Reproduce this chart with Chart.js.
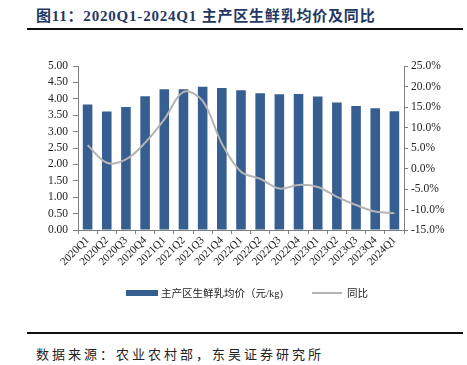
<!DOCTYPE html>
<html><head><meta charset="utf-8">
<script src="https://cdn.jsdelivr.net/npm/chart.js@4.4.0/dist/chart.umd.min.js"></script>
<style>
html,body{margin:0;padding:0;background:#fff;width:467px;height:365px;overflow:hidden;}
#title{position:absolute;left:36px;top:4px;font-family:"Liberation Serif","Noto Sans CJK SC",serif;font-weight:bold;font-size:15px;color:#1f3864;letter-spacing:0.8px;white-space:nowrap;}
.hr{position:absolute;left:27px;width:436px;height:2px;background:#111;}
#src{position:absolute;left:36px;top:344px;font-family:"Noto Sans CJK SC",sans-serif;font-size:13px;color:#222;letter-spacing:3px;white-space:nowrap;}
#legend{position:absolute;top:285px;left:0;font-family:"Liberation Serif","Noto Sans CJK SC",serif;font-size:10.5px;color:#222;}
.box{position:absolute;left:126px;top:5px;width:32px;height:6px;background:#375e91;}
.t1{position:absolute;left:161px;top:0px;white-space:nowrap;}
.ln{position:absolute;left:312px;top:7px;width:30px;height:2px;background:#b4b4b4;}
.t2{position:absolute;left:347px;top:0px;white-space:nowrap;}
#wrap{position:absolute;left:0;top:50px;width:467px;height:240px;}
</style></head>
<body>
<div id="title">图11：2020Q1-2024Q1 主产区生鲜乳均价及同比</div>
<div class="hr" style="top:28px"></div>
<div id="wrap"><canvas id="c" width="467" height="240"></canvas></div>
<div id="legend"><div class="box"></div><div class="t1">主产区生鲜乳均价（元/kg)</div><div class="ln"></div><div class="t2">同比</div></div>
<div class="hr" style="top:332px"></div>
<div id="src">数据来源：农业农村部，东吴证券研究所</div>
<script>
const categories = ["2020Q1","2020Q2","2020Q3","2020Q4","2021Q1","2021Q2","2021Q3","2021Q4","2022Q1","2022Q2","2022Q3","2022Q4","2023Q1","2023Q2","2023Q3","2023Q4","2024Q1"];
const priceValues = [3.83,3.61,3.75,4.08,4.29,4.29,4.37,4.33,4.26,4.17,4.14,4.15,4.07,3.89,3.78,3.71,3.62];
const yoyValues = [5.7,1.4,2.2,6.3,12.0,18.7,16.5,6.1,-0.8,-2.5,-4.9,-4.0,-4.5,-6.9,-8.9,-10.5,-10.9];
const leftTicks = {min:0,max:5,step:0.5};
const rightTicks = {min:-15,max:25,step:5};

const axisColor = '#7f7f7f';
const tickFont = {family:"'Liberation Serif', serif", size:11.5};
new Chart(document.getElementById('c'), {
  data: {
    labels: categories,
    datasets: [
      {type:'line', label:'同比', data: yoyValues, yAxisID:'y1', borderColor:'#b4b4b4', borderWidth:2, pointRadius:0, tension:0.35, order:0},
      {type:'bar', label:'主产区生鲜乳均价（元/kg)', data: priceValues, yAxisID:'y', backgroundColor:'#375e91', barPercentage:0.5, categoryPercentage:1.0, order:1}
    ]
  },
  options: {
    responsive:false, animation:false,
    layout:{padding:{top:16,left:0,right:0,bottom:0}},
    plugins:{legend:{display:false}, tooltip:{enabled:false}},
    scales:{
      x:{
        grid:{display:true, drawOnChartArea:false, drawTicks:true, tickLength:4, color:axisColor, offset:true},
        border:{display:true,color:axisColor},
        ticks:{minRotation:45,maxRotation:45,autoSkip:false,color:'#222',font:{family:"'Liberation Serif', serif",size:11},padding:0},
        afterFit:(s)=>{s.height=60;}
      },
      y:{
        position:'left', min:leftTicks.min, max:leftTicks.max,
        ticks:{stepSize:leftTicks.step,autoSkip:false,color:'#222',font:tickFont,padding:5,callback:v=>v.toFixed(2)},
        grid:{display:true, drawOnChartArea:false, drawTicks:true, tickLength:5, color:axisColor},
        border:{display:true,color:axisColor},
        afterFit:(s)=>{s.width=78;}
      },
      y1:{
        position:'right', min:rightTicks.min, max:rightTicks.max,
        ticks:{stepSize:rightTicks.step,autoSkip:false,color:'#222',font:tickFont,padding:3,callback:v=>v.toFixed(1)+'%'},
        grid:{display:true, drawOnChartArea:false, drawTicks:true, tickLength:4, color:axisColor},
        border:{display:true,color:axisColor},
        afterFit:(s)=>{s.width=63;}
      }
    }
  }
});
</script>
</body></html>
